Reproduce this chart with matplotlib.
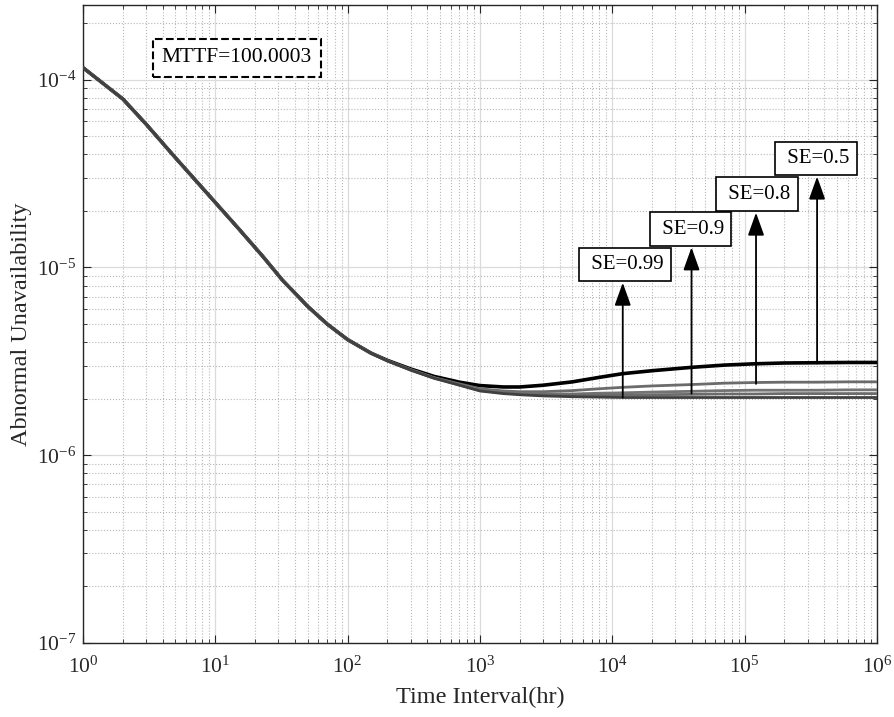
import matplotlib.pyplot as plt

plt.rcParams['font.family'] = 'serif'
plt.rcParams['font.serif'] = ['Liberation Serif', 'DejaVu Serif']
plt.rcParams['mathtext.fontset'] = 'custom'
plt.rcParams['mathtext.rm'] = 'Liberation Serif'
plt.rcParams['mathtext.it'] = 'Liberation Serif:italic'
plt.rcParams['axes.unicode_minus'] = False

# common part of all curves (hr, unavailability)
t_common = [1, 2, 3, 5, 10, 15, 23, 32, 50, 70, 100, 150]
u_common = [1.16e-4, 7.9e-5, 5.8e-5, 3.84e-5, 2.22e-5, 1.61e-5, 1.14e-5,
            8.6e-6, 6.2e-6, 5.0e-6, 4.13e-6, 3.5e-6]

# where the curves split apart (values x 1e-6)
t_tail = [200, 300, 450, 700, 1000, 1500, 2000, 3000, 5000, 8000, 1.2e4,
          2e4, 4e4, 7e4, 1.2e5, 2e5, 3.5e5, 6e5, 1e6]
u_se050 = [3.20, 2.88, 2.63, 2.45, 2.35, 2.31, 2.31, 2.36, 2.46, 2.60, 2.72,
           2.82, 2.94, 3.02, 3.07, 3.10, 3.11, 3.12, 3.12]
u_se080 = [3.19, 2.86, 2.59, 2.40, 2.26, 2.20, 2.18, 2.18, 2.21, 2.26, 2.30,
           2.34, 2.38, 2.42, 2.44, 2.45, 2.45, 2.46, 2.46]
u_se090 = [3.18, 2.85, 2.58, 2.38, 2.23, 2.16, 2.14, 2.12, 2.12, 2.14, 2.15,
           2.17, 2.19, 2.21, 2.22, 2.22, 2.22, 2.23, 2.23]
u_se095 = [3.18, 2.84, 2.58, 2.37, 2.21, 2.15, 2.12, 2.10, 2.09, 2.09, 2.09,
           2.10, 2.11, 2.12, 2.12, 2.13, 2.13, 2.13, 2.13]
u_se099 = [3.18, 2.84, 2.57, 2.36, 2.20, 2.13, 2.10, 2.07, 2.05, 2.04, 2.03,
           2.03, 2.03, 2.03, 2.03, 2.03, 2.03, 2.03, 2.03]

# arrow labels: x position, arrow bottom, arrow tip, text centre
se_labels = ['SE=0.99', 'SE=0.9', 'SE=0.8', 'SE=0.5']
arrow_x = [1.2e4, 3.97e4, 1.22e5, 3.53e5]
arrow_bottom = [2.03e-6, 2.13e-6, 2.4e-6, 3.08e-6]
arrow_top = [8.3e-6, 1.28e-5, 1.96e-5, 3.05e-5]
label_x = [1.24e4, 3.9e4, 1.24e5, 3.44e5]
label_y = [1.04e-5, 1.6e-5, 2.46e-5, 3.81e-5]

t = t_common + t_tail
curves = [
    (u_se050, 'black', 2.6),
    (u_se080, '0.42', 2.0),
    (u_se090, '0.45', 2.0),
    (u_se095, '0.42', 2.0),
    (u_se099, '0.25', 2.0),
]

fig = plt.figure(figsize=(8.94, 7.17), dpi=100)
ax = fig.add_axes([0.0928, 0.1032, 0.8881, 0.8898])

for tail, c, lw in curves:
    u = u_common + [v * 1e-6 for v in tail]
    ax.plot(t, u, color=c, lw=lw, zorder=3)

ax.set_xscale('log')
ax.set_yscale('log')
ax.set_xlim(1, 1e6)
ax.set_ylim(1e-7, 2.5e-4)

ax.grid(which='major', color='0.86', lw=0.9, ls='-')
ax.grid(which='minor', color='0.72', lw=0.8, ls=':')
ax.tick_params(which='both', direction='in', top=True, right=True,
               colors='0.15', labelsize=15.5)
ax.tick_params(which='major', length=6, width=0.8)
ax.tick_params(which='minor', length=3, width=0.6)
ax.tick_params(axis='x', pad=10)
ax.tick_params(axis='y', pad=5)
for s in ax.spines.values():
    s.set_color('0.15')
    s.set_linewidth(1.0)

ax.set_xlabel('Time Interval(hr)', fontsize=17.5, color='0.15', labelpad=6)
ax.set_ylabel('Abnormal Unavailability', fontsize=17.5, color='0.15', labelpad=3)

for lab, x, yb, yt, lx, ly in zip(se_labels, arrow_x, arrow_bottom, arrow_top,
                                  label_x, label_y):
    ax.annotate('', xy=(x, yt), xytext=(x, yb),
                arrowprops=dict(arrowstyle='-|>,head_length=1.4,head_width=0.5',
                                color='black', lw=1.3, shrinkA=0, shrinkB=0,
                                mutation_scale=10), zorder=4)
    ax.text(lx, ly, ' ' + lab, ha='center', va='center', fontsize=15, zorder=5,
            bbox=dict(boxstyle='square,pad=0.35', fc='white', ec='black', lw=1.2))

ax.text(0.194, 0.917, 'MTTF=100.0003', transform=ax.transAxes, ha='center',
        va='center', fontsize=15.5, zorder=5,
        bbox=dict(boxstyle='square,pad=0.42', fc='white', ec='black',
                  ls='--', lw=1.5))

fig.savefig('out.png', dpi=100)
